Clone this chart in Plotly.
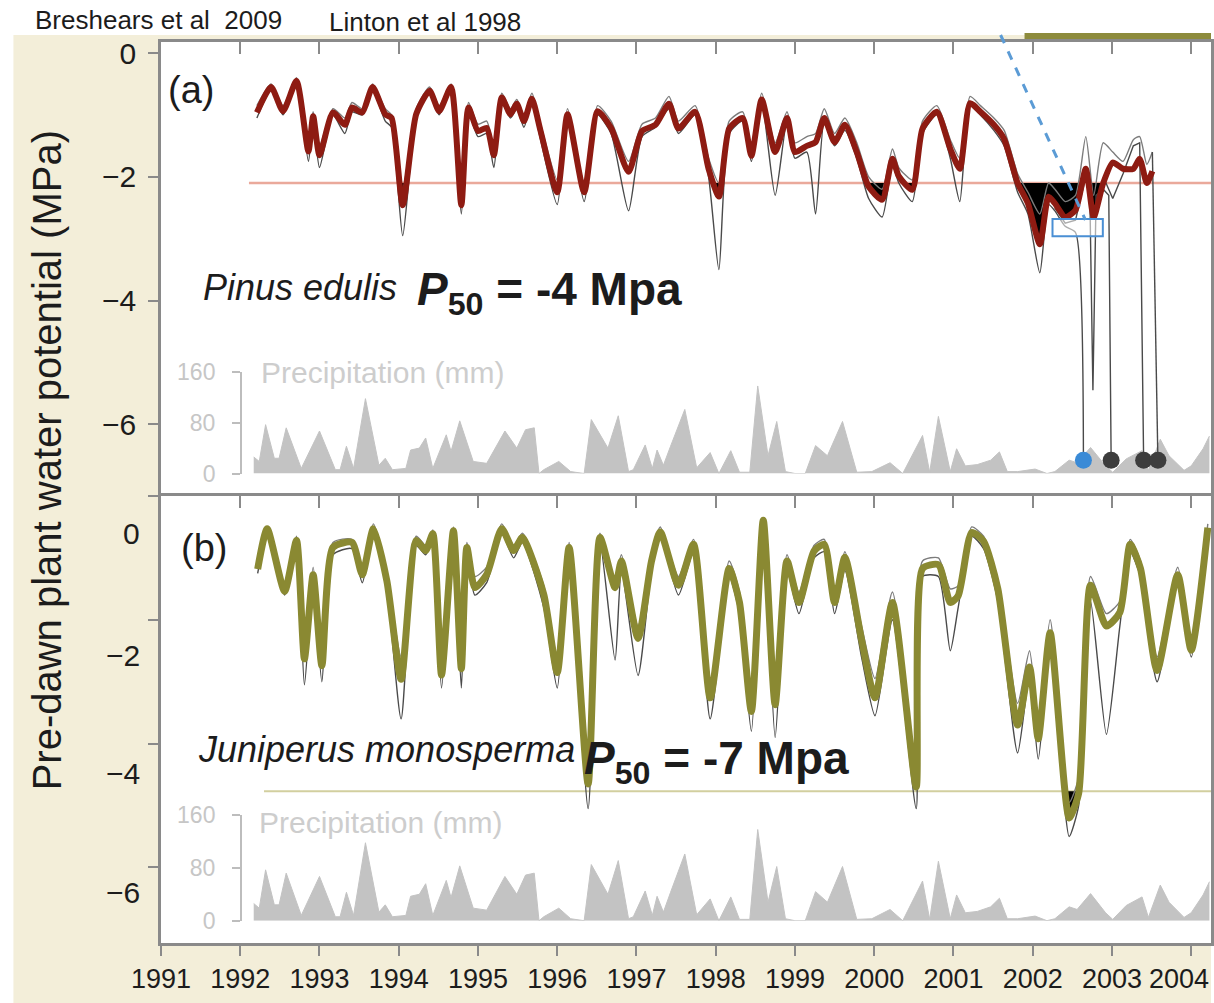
import plotly.graph_objects as go

# ---- data ----
years = list(range(1991, 2005))

# Pinus edulis, pre-dawn water potential (MPa)
pin_year = [1992.21, 1992.39, 1992.54, 1992.71, 1992.86, 1992.92,
            1993.00, 1993.17, 1993.32, 1993.41, 1993.54, 1993.67, 1993.83, 1993.91,
            1994.05, 1994.22, 1994.39, 1994.51, 1994.66, 1994.79, 1994.88,
            1995.00, 1995.11, 1995.20, 1995.30, 1995.41, 1995.49, 1995.58, 1995.68, 1995.79,
            1996.00, 1996.13, 1996.34, 1996.51, 1996.68, 1996.90,
            1997.07, 1997.24, 1997.41, 1997.53, 1997.74, 1997.91,
            1998.04, 1998.17, 1998.34, 1998.45, 1998.58, 1998.75, 1998.90,
            1999.00, 1999.15, 1999.26, 1999.37, 1999.50, 1999.63, 1999.78, 1999.93,
            2000.10, 2000.23, 2000.31, 2000.48, 2000.61, 2000.79, 2000.96,
            2001.08, 2001.21, 2001.34, 2001.51, 2001.64, 2001.81, 2001.94,
            2002.09, 2002.20, 2002.28, 2002.41, 2002.54, 2002.67, 2002.77, 2002.89,
            2003.01, 2003.14, 2003.27, 2003.35, 2003.44, 2003.51]
pin_mean = [-0.96, -0.55, -0.94, -0.45, -1.59, -1.02,
            -1.65, -0.96, -1.16, -0.88, -0.96, -0.55, -0.99, -1.05,
            -2.46, -0.99, -0.61, -0.94, -0.55, -2.46, -0.88,
            -1.26, -1.21, -1.65, -0.72, -0.99, -0.82, -1.10, -0.74, -1.26,
            -2.25, -0.99, -2.25, -0.94, -1.21, -1.92,
            -1.26, -1.16, -0.82, -1.22, -0.95, -1.87,
            -2.32, -1.22, -1.05, -1.66, -0.75, -1.60, -1.05,
            -1.60, -1.50, -1.44, -1.05, -1.44, -1.16, -1.60, -2.16,
            -2.37, -1.71, -1.99, -2.21, -1.22, -0.95, -1.55,
            -1.87, -0.81, -0.95, -1.16, -1.39, -2.10, -2.43,
            -3.09, -2.32, -2.43, -2.65, -2.54, -1.87, -2.65, -2.10,
            -1.77, -1.87, -1.87, -1.71, -2.10, -1.91]
pin_hi = [-0.85, -0.50, -0.85, -0.40, -1.40, -0.95,
          -1.50, -0.90, -1.05, -0.80, -0.90, -0.50, -0.90, -1.00,
          -2.20, -0.90, -0.55, -0.85, -0.50, -2.25, -0.80,
          -1.15, -1.10, -1.50, -0.65, -0.90, -0.75, -1.00, -0.65, -1.15,
          -2.05, -0.90, -2.10, -0.85, -1.10, -1.75,
          -1.15, -1.05, -0.70, -1.10, -0.85, -1.70,
          -2.10, -1.10, -0.95, -1.50, -0.65, -1.45, -0.95,
          -1.45, -1.35, -1.30, -0.90, -1.30, -1.05, -1.45, -2.00,
          -2.20, -1.55, -1.85, -2.05, -1.10, -0.85, -1.40,
          -1.70, -0.70, -0.85, -1.05, -1.25, -1.95, -2.25,
          -2.60, -2.10, -2.20, -2.40, -2.30, -1.35, -2.30, -1.45,
          -1.60, -1.75, -1.40, -1.35, -1.80, -1.60]
pin_lo_year = pin_year[:76] + [2002.64]
pin_lo = [-1.05, -0.60, -1.00, -0.50, -1.75, -1.10,
          -1.85, -1.00, -1.30, -0.95, -1.00, -0.60, -1.10, -1.20,
          -2.95, -1.05, -0.65, -1.00, -0.60, -2.60, -0.95,
          -1.35, -1.30, -1.85, -0.80, -1.05, -0.90, -1.20, -0.80, -1.40,
          -2.45, -1.05, -2.40, -1.00, -1.30, -2.55,
          -1.35, -1.20, -0.90, -1.30, -1.00, -2.00,
          -3.50, -1.30, -1.10, -1.75, -0.80, -2.30, -1.10,
          -1.70, -1.60, -2.60, -1.10, -1.50, -1.25, -1.70, -2.35,
          -2.65, -1.80, -2.10, -2.40, -1.30, -1.00, -1.70,
          -2.40, -0.85, -1.00, -1.25, -1.50, -2.25, -2.60,
          -3.55, -2.45, -2.55, -2.80, -2.90, -6.58]
pin_mid_year = [2002.28, 2002.41, 2002.54, 2002.67, 2002.72, 2002.76, 2002.80, 2002.89, 2002.96, 2002.99]
pin_mid = [-2.50, -2.75, -2.70, -2.00, -2.20, -5.45, -2.30, -2.20, -2.30, -6.58]
pin_mid2_year = [2002.89, 2003.01, 2003.14, 2003.27, 2003.35, 2003.40]
pin_mid2 = [-2.00, -2.35, -1.95, -1.50, -1.45, -6.58]
pin_last_year = [2003.51, 2003.58]
pin_last = [-1.60, -6.58]
death_year = [2002.64, 2002.99, 2003.40, 2003.58]
death_mpa = [-6.58, -6.58, -6.58, -6.58]
pin_thresh = -2.1

# Juniperus monosperma
jun_year = [1992.22, 1992.34, 1992.56, 1992.71, 1992.81, 1992.92,
            1993.03, 1993.17, 1993.41, 1993.54, 1993.68, 1993.85,
            1994.03, 1994.22, 1994.34, 1994.43, 1994.54, 1994.69, 1994.79, 1994.86, 1994.96,
            1995.11, 1995.30, 1995.45, 1995.56, 1995.83,
            1996.00, 1996.15, 1996.39, 1996.54, 1996.73, 1996.81,
            1997.02, 1997.19, 1997.30, 1997.53, 1997.72, 1997.93,
            1998.17, 1998.30, 1998.45, 1998.60, 1998.75, 1998.90,
            1999.05, 1999.24, 1999.37, 1999.50, 1999.63, 1999.84,
            2000.01, 2000.23, 2000.53, 2000.61, 2000.81, 2000.96,
            2001.06, 2001.23, 2001.38, 2001.56, 2001.81, 2001.96,
            2002.07, 2002.22, 2002.46, 2002.58, 2002.73, 2002.93,
            2003.10, 2003.23, 2003.36, 2003.57, 2003.83,
            2004.00, 2004.21]
jun_mean = [-1.18, -0.53, -1.54, -0.72, -2.63, -1.27,
            -2.74, -0.83, -0.75, -1.27, -0.53, -1.37,
            -2.96, -0.72, -0.88, -0.61, -2.89, -0.56, -2.79, -0.83, -1.48,
            -1.27, -0.53, -0.88, -0.67, -1.59,
            -2.85, -0.83, -4.65, -0.67, -1.48, -1.05,
            -2.30, -1.05, -0.58, -1.44, -0.78, -3.26,
            -1.17, -1.72, -3.48, -0.39, -3.37, -1.05,
            -1.72, -0.89, -0.78, -1.72, -0.99, -2.32,
            -3.26, -1.72, -4.70, -1.17, -1.11, -1.72,
            -1.61, -0.59, -0.73, -1.50, -3.70, -2.76,
            -3.92, -2.21, -5.20, -4.80, -1.44, -2.10,
            -1.88, -0.78, -1.17, -2.82, -1.27,
            -2.49, -0.51]
jun_hi = [-1.10, -0.50, -1.45, -0.65, -2.40, -1.15,
          -2.50, -0.75, -0.70, -1.15, -0.45, -1.25,
          -2.60, -0.65, -0.80, -0.55, -2.60, -0.50, -2.50, -0.75, -1.30,
          -1.15, -0.45, -0.80, -0.60, -1.45,
          -2.60, -0.75, -4.30, -0.60, -1.35, -0.95,
          -2.10, -0.95, -0.50, -1.30, -0.70, -3.00,
          -1.05, -1.55, -3.20, -0.35, -3.10, -0.95,
          -1.55, -0.80, -0.70, -1.55, -0.90, -2.10,
          -2.95, -1.55, -4.40, -1.05, -1.00, -1.50,
          -1.45, -0.50, -0.65, -1.35, -3.35, -2.50,
          -3.60, -2.00, -4.95, -4.55, -1.30, -1.90,
          -1.70, -0.70, -1.05, -2.60, -1.15,
          -2.30, -0.45]
jun_lo = [-1.25, -0.60, -1.60, -0.80, -3.05, -1.35,
          -3.00, -0.95, -0.85, -1.40, -0.60, -1.50,
          -3.60, -0.80, -0.95, -0.70, -3.10, -0.65, -3.10, -0.95, -1.60,
          -1.40, -0.60, -1.00, -0.75, -1.80,
          -3.10, -0.90, -5.05, -0.75, -2.65, -1.20,
          -2.90, -1.20, -0.65, -1.60, -0.90, -3.60,
          -1.30, -1.90, -3.80, -0.45, -3.90, -1.20,
          -1.90, -1.00, -0.90, -1.90, -1.20, -2.60,
          -3.55, -2.00, -5.05, -1.30, -1.30, -2.50,
          -1.80, -0.65, -0.85, -1.70, -4.15, -2.90,
          -4.25, -2.50, -5.50, -5.00, -1.70, -3.85,
          -2.10, -0.90, -1.30, -3.00, -1.40,
          -2.60, -0.60]
jun_thresh = -4.77

# Monthly precipitation (mm), same record under both panels
prec_year = [1992.17, 1992.24, 1992.32, 1992.43, 1992.49, 1992.58, 1992.77,
             1993.00, 1993.20, 1993.26, 1993.34, 1993.43, 1993.58, 1993.75, 1993.83, 1993.92,
             1994.09, 1994.15, 1994.26, 1994.34, 1994.43, 1994.60, 1994.66, 1994.77, 1994.94,
             1995.11, 1995.34, 1995.49, 1995.60, 1995.71, 1995.77, 1995.83,
             1996.02, 1996.17, 1996.34, 1996.43, 1996.64, 1996.77, 1996.90, 1996.96,
             1997.11, 1997.20, 1997.26, 1997.34, 1997.43, 1997.61, 1997.76, 1997.93,
             1998.04, 1998.19, 1998.30, 1998.43, 1998.53, 1998.66, 1998.77, 1998.88,
             1999.00, 1999.13, 1999.26, 1999.41, 1999.60, 1999.78, 1999.97,
             2000.20, 2000.36, 2000.48, 2000.61, 2000.70, 2000.81, 2000.96,
             2001.04, 2001.15, 2001.30, 2001.47, 2001.58, 2001.68, 2001.81,
             2002.03, 2002.18, 2002.28, 2002.46, 2002.56, 2002.73, 2002.92,
             2003.01, 2003.18, 2003.38, 2003.46, 2003.61, 2003.72, 2003.91,
             2004.00, 2004.15, 2004.23]
prec_mm = [26, 19, 77, 24, 24, 72, 8,
           67, 6, 6, 43, 8, 118, 13, 24, 6,
           8, 37, 40, 56, 8, 61, 35, 83, 19,
           16, 67, 40, 69, 72, 0, 6,
           19, 3, 0, 85, 40, 91, 3, 6,
           45, 8, 37, 13, 43, 101, 9, 33,
           0, 36, 2, 2, 138, 28, 82, 3,
           0, 0, 44, 28, 82, 2, 3,
           17, 0, 28, 60, 2, 90, 3,
           39, 12, 14, 21, 34, 3, 3,
           7, 0, 3, 21, 17, 41, 12,
           2, 23, 36, 5, 54, 28, 5,
           12, 39, 59]

# ---- styling ----
FONT = "Liberation Sans, Arial, Helvetica, sans-serif"
INK = "#1c1c1c"
FRAME = "#8a8a8a"
BEIGE = "#f3eed9"
RED = "#8e1b12"
OLIVE = "#8a8932"
PREC = "#c3c3c3"
SMOOTH = 0.6

# plot area in pixels: x 161..1214, y 42..943
L, R, T, B = 161, 1214, 42, 943


def px_x(p):
    return (p - L) / (R - L)


def px_y(p):
    return (B - p) / (B - T)


def below_fill(xs, ys, thr):
    """Points of the series clipped at the threshold, with the crossings added."""
    fx, fy = [], []
    for i in range(len(xs)):
        if i > 0:
            y0, y1 = ys[i - 1], ys[i]
            if (y0 - thr) * (y1 - thr) < 0:
                t = (thr - y0) / (y1 - y0)
                fx.append(xs[i - 1] + t * (xs[i] - xs[i - 1]))
                fy.append(thr)
        fx.append(xs[i])
        fy.append(min(ys[i], thr))
    return fx, fy


fig = go.Figure()

# precipitation (lower axis ids so the water-potential traces are drawn on top)
for xa, ya in (("x2", "y"), ("x", "y2")):
    fig.add_trace(go.Scatter(
        x=prec_year, y=prec_mm, xaxis=xa, yaxis=ya, mode="lines",
        line=dict(color=PREC, width=1), fill="tozeroy", fillcolor=PREC,
        hoverinfo="skip", showlegend=False
    ))

thin_dark = dict(color="#4a4a4a", width=1.4, shape="spline", smoothing=SMOOTH)
thin_mid = dict(color="#7c7c7c", width=1.4, shape="spline", smoothing=SMOOTH)
thin_drop = dict(color="#4a4a4a", width=1.4)

# panel (a) Pinus edulis
fx, fy = below_fill(pin_year, pin_mean, pin_thresh)
fig.add_trace(go.Scatter(x=fx, y=[pin_thresh] * len(fx), xaxis="x2", yaxis="y3", mode="lines",
                         line=dict(width=0), hoverinfo="skip", showlegend=False))
fig.add_trace(go.Scatter(x=fx, y=fy, xaxis="x2", yaxis="y3", mode="lines", fill="tonexty",
                         fillcolor="black", line=dict(width=0), hoverinfo="skip", showlegend=False))
for xs, ys, ln in ((pin_year, pin_hi, thin_mid), (pin_lo_year, pin_lo, thin_dark),
                   (pin_mid_year, pin_mid, thin_drop), (pin_mid2_year, pin_mid2, thin_drop),
                   (pin_last_year, pin_last, thin_drop)):
    fig.add_trace(go.Scatter(x=xs, y=ys, xaxis="x2", yaxis="y3", mode="lines", line=ln,
                             hoverinfo="skip", showlegend=False))
fig.add_trace(go.Scatter(x=pin_year, y=pin_mean, xaxis="x2", yaxis="y3", mode="lines",
                         line=dict(color=RED, width=6, shape="spline", smoothing=SMOOTH),
                         name="Pinus edulis", showlegend=False))
fig.add_trace(go.Scatter(x=death_year, y=death_mpa, xaxis="x2", yaxis="y3", mode="markers",
                         marker=dict(size=17, color=["#3a8ad6", "#3d3d3d", "#3d3d3d", "#3d3d3d"]),
                         hoverinfo="skip", showlegend=False))

# panel (b) Juniperus monosperma
fx, fy = below_fill(jun_year, jun_mean, jun_thresh)
fig.add_trace(go.Scatter(x=fx, y=[jun_thresh] * len(fx), xaxis="x", yaxis="y4", mode="lines",
                         line=dict(width=0), hoverinfo="skip", showlegend=False))
fig.add_trace(go.Scatter(x=fx, y=fy, xaxis="x", yaxis="y4", mode="lines", fill="tonexty",
                         fillcolor="black", line=dict(width=0), hoverinfo="skip", showlegend=False))
for ys, ln in ((jun_hi, thin_mid), (jun_lo, thin_dark)):
    fig.add_trace(go.Scatter(x=jun_year, y=ys, xaxis="x", yaxis="y4", mode="lines", line=ln,
                             hoverinfo="skip", showlegend=False))
fig.add_trace(go.Scatter(x=jun_year, y=jun_mean, xaxis="x", yaxis="y4", mode="lines",
                         line=dict(color=OLIVE, width=7, shape="spline", smoothing=SMOOTH),
                         name="Juniperus monosperma", showlegend=False))
# empty trace so the tick row on top of panel (b) is drawn
fig.add_trace(go.Scatter(x=[], y=[], xaxis="x3", yaxis="y4", showlegend=False))

xr = [1991, 2004.25]
# the last label (2004) runs off the right edge, so it is placed as a note below
year_text = [str(y) for y in years[:-1]] + [""]
tick_common = dict(ticks="outside", ticklen=10, tickwidth=2, tickcolor=FRAME,
                   showline=True, linecolor=FRAME, linewidth=2.5, showgrid=False, zeroline=False)
prec_axis = dict(range=[0, 160], tickvals=[0, 80, 160], ticks="outside", ticklen=8, tickwidth=1.5,
                 tickcolor="#bdbdbd", showline=True, linecolor="#bdbdbd", linewidth=1.5,
                 showgrid=False, zeroline=False, anchor="free", position=px_x(241),
                 tickfont=dict(family=FONT, size=23, color="#c6c6c6"), ticklabelstandoff=12)

fig.update_layout(
    width=1214, height=1003,
    margin=dict(l=L, r=1214 - R, t=T, b=1003 - B),
    paper_bgcolor="white", plot_bgcolor="rgba(0,0,0,0)",
    font=dict(family=FONT, color=INK),
    xaxis=dict(domain=[0, 1], range=xr, anchor="y4", tickvals=years, ticktext=year_text,
               tickfont=dict(family=FONT, size=27, color=INK), **tick_common),
    xaxis2=dict(matches="x", range=xr, anchor="y3", side="top", ticks="inside", ticklen=12,
                tickwidth=2, tickcolor=FRAME, tickvals=years, showticklabels=False,
                showline=True, linecolor=FRAME, linewidth=2.5, showgrid=False, zeroline=False),
    xaxis3=dict(overlaying="x", range=xr, anchor="y4", side="top", ticks="inside", ticklen=12,
                tickwidth=2, tickcolor=FRAME, tickvals=years, showticklabels=False,
                showline=True, linecolor=FRAME, linewidth=2.5, showgrid=False, zeroline=False),
    yaxis=dict(domain=[px_y(473.5), px_y(372)], **prec_axis),
    yaxis2=dict(domain=[px_y(920.7), px_y(815)], **prec_axis),
    yaxis3=dict(domain=[px_y(496), 1], range=[-7.157, 0.178], anchor="x2", mirror=True,
                tickvals=[0, -2, -4, -6], ticktext=["0", "\u22122", "\u22124", "\u22126"],
                tickfont=dict(family=FONT, size=30, color=INK), ticklabelstandoff=6, **tick_common),
    yaxis4=dict(domain=[0, px_y(496)], range=[-7.22, 0], anchor="x", mirror=True,
                tickvals=[0, -2, -4, -6], showticklabels=False, **tick_common),
)

shapes = [
    # beige page behind the figure, white plotting area
    dict(type="rect", xref="paper", yref="paper", x0=px_x(13), x1=1.0, y0=px_y(1003), y1=px_y(35),
         fillcolor=BEIGE, line=dict(width=0), layer="below"),
    dict(type="rect", xref="paper", yref="paper", x0=0, x1=1, y0=0, y1=1,
         fillcolor="white", line=dict(width=0), layer="below"),
    dict(type="rect", xref="paper", yref="paper", x0=px_x(1027), x1=1.0, y0=px_y(40), y1=px_y(33),
         fillcolor="#8d8b3c", line=dict(width=0), layer="below"),
    # thresholds
    dict(type="line", xref="x2", yref="y3", x0=1992.11, x1=2004.25, y0=pin_thresh, y1=pin_thresh,
         line=dict(color="#eaa99b", width=2.5), layer="below"),
    dict(type="line", xref="x", yref="y4", x0=1992.3, x1=2004.25, y0=jun_thresh, y1=jun_thresh,
         line=dict(color="#d2cf9f", width=2), layer="below"),
    # blue call-out
    dict(type="rect", xref="x2", yref="y3", x0=2002.25, x1=2002.885, y0=-2.96, y1=-2.68,
         line=dict(color="#4a8fd4", width=2), fillcolor="rgba(255,255,255,0.55)"),
    dict(type="line", xref="x2", yref="paper", x0=2001.595, x1=2002.665, y0=px_y(35), y1=px_y(220),
         line=dict(color="#5b9bd5", width=3, dash="dash")),
]
fig.update_layout(shapes=shapes)


def note(text, x, y, size, color=INK, xanchor="left", yanchor="middle", **kw):
    fig.add_annotation(text=text, xref="paper", yref="paper", x=x, y=y, showarrow=False,
                       xanchor=xanchor, yanchor=yanchor, font=dict(family=FONT, size=size, color=color), **kw)


note("Breshears et al\u00a0 2009", px_x(33), px_y(20), 26)
note("Linton et al 1998", px_x(327), px_y(22), 26)
note("Pre-dawn plant water potential (MPa)", px_x(47), px_y(460), 40, xanchor="center", textangle=-90)
note("(a)", px_x(166), px_y(90), 38)
note("(b)", px_x(179), px_y(548), 38)
note("<i>Pinus edulis</i>", px_x(201), px_y(287), 36)
note("<b><i>P</i><sub>50</sub> = -4 Mpa</b>", px_x(416), px_y(292), 46)
note("<i>Juniperus monosperma</i>", px_x(196), px_y(749), 36)
note("<b><i>P</i><sub>50</sub> = -7 Mpa</b>", px_x(583), px_y(761), 46)
note("Precipitation (mm)", px_x(259), px_y(372), 30, color="#cdcdcd")
note("Precipitation (mm)", px_x(257), px_y(822), 30, color="#cdcdcd")
note(str(years[-1]), 1.0, px_y(979), 27, xanchor="right")

# panel (b) tick labels sit a little below their ticks in the original
for lab, v in zip(["0", "\u22122", "\u22124", "\u22126"], [-0.60, -2.57, -4.49, -6.41]):
    fig.add_annotation(text=lab, xref="paper", yref="y4", x=px_x(142), y=v, showarrow=False,
                       xanchor="right", yanchor="middle", font=dict(family=FONT, size=30, color=INK))

fig.write_html("out.html", config={"displayModeBar": False},
               post_script="document.body.style.margin='0';")
